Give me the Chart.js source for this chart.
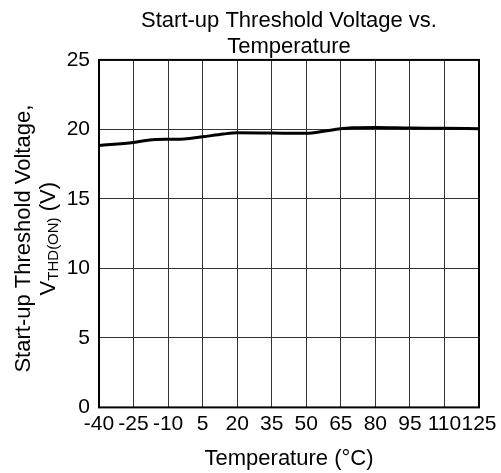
<!DOCTYPE html>
<html>
<head>
<meta charset="utf-8">
<script src="https://cdn.jsdelivr.net/npm/chart.js@4/dist/chart.umd.min.js"></script>
<style>
  html, body { margin: 0; padding: 0; background: #fff; }
  #wrap { width: 501px; height: 473px; }
</style>
</head>
<body>
<div id="wrap"><canvas id="vthChart"></canvas></div>
<script>
// values
const temps = [-40, -25, -18, -10, -3, 5, 14, 20, 35, 50, 54, 64, 70, 80, 95, 110, 125];
const vth = [18.84, 19.06, 19.24, 19.29, 19.31, 19.47, 19.67, 19.76, 19.74, 19.72, 19.78, 20.03, 20.12, 20.14, 20.1, 20.08, 20.05];
const xTicks = [-40, -25, -10, 5, 20, 35, 50, 65, 80, 95, 110, 125];
const yTicks = [0, 5, 10, 15, 20, 25];

const chartTitle = ["Start-up Threshold Voltage vs.", "Temperature"];
const xTitle = "Temperature (°C)";
const yTitleLine1 = "Start-up Threshold Voltage,";
const yTitleMain = "V";
const yTitleSub = "THD(ON)";
const yTitleEnd = " (V)";

const FONT = "'Liberation Sans', Arial, sans-serif";

Chart.defaults.font.family = FONT;
Chart.defaults.color = "#000";

// frame round the plot area + rotated y title with subscript
const framePlugin = {
  id: "frame",
  beforeDatasetsDraw(chart) {
    const { ctx, chartArea: a } = chart;
    ctx.save();
    ctx.strokeStyle = "#000";
    ctx.lineWidth = 2;
    ctx.strokeRect(a.left, a.top, a.right - a.left, a.bottom - a.top);
    ctx.restore();
  },
  afterDraw(chart) {
    const { ctx, chartArea: a } = chart;
    const cy = (a.top + a.bottom) / 2 + 5;
    ctx.save();
    ctx.fillStyle = "#000";
    ctx.textBaseline = "alphabetic";

    // line 1
    ctx.save();
    ctx.translate(30, cy);
    ctx.rotate(-Math.PI / 2);
    ctx.font = "22px " + FONT;
    ctx.textAlign = "center";
    ctx.fillText(yTitleLine1, 0, 0);
    ctx.restore();

    // line 2 with subscript
    ctx.save();
    ctx.translate(55, cy);
    ctx.rotate(-Math.PI / 2);
    ctx.textAlign = "left";
    ctx.font = "22px " + FONT;
    const wMain = ctx.measureText(yTitleMain).width;
    const wEnd = ctx.measureText(yTitleEnd).width;
    ctx.font = "15px " + FONT;
    const wSub = ctx.measureText(yTitleSub).width;
    let x = -(wMain + wSub + wEnd) / 2;
    ctx.font = "22px " + FONT;
    ctx.fillText(yTitleMain, x, 0);
    x += wMain;
    ctx.font = "15px " + FONT;
    ctx.fillText(yTitleSub, x, 3);
    x += wSub;
    ctx.font = "22px " + FONT;
    ctx.fillText(yTitleEnd, x, 0);
    ctx.restore();

    ctx.restore();
  },
};

const ctx = document.getElementById("vthChart").getContext("2d");
new Chart(ctx, {
  type: "line",
  data: {
    datasets: [
      {
        label: "VTHD(ON)",
        data: temps.map((t, i) => ({ x: t, y: vth[i] })),
        borderColor: "#000",
        borderWidth: 3,
        pointRadius: 0,
        cubicInterpolationMode: "monotone",
        fill: false,
      },
    ],
  },
  options: {
    responsive: true,
    maintainAspectRatio: false,
    animation: false,
    layout: {
      padding: { left: 0, right: 22, top: 0, bottom: 0 },
    },
    plugins: {
      legend: { display: false },
      tooltip: { enabled: false },
      title: {
        display: true,
        fullSize: false,
        text: chartTitle,
        color: "#000",
        font: { size: 22, weight: "normal", lineHeight: 1.18 },
        padding: { top: 8, bottom: 0 },
      },
    },
    scales: {
      x: {
        type: "linear",
        min: -40,
        max: 125,
        afterBuildTicks: (s) => {
          s.ticks = xTicks.map((v) => ({ value: v }));
        },
        ticks: {
          autoSkip: false,
          maxRotation: 0,
          minRotation: 0,
          padding: 4,
          color: "#000",
          font: { size: 21 },
        },
        grid: { color: "#333", lineWidth: 1, drawTicks: false },
        border: { display: false },
        title: {
          display: true,
          text: xTitle,
          color: "#000",
          font: { size: 22 },
          padding: { top: 5, bottom: 1 },
        },
      },
      y: {
        min: 0,
        max: 25,
        afterBuildTicks: (s) => {
          s.ticks = yTicks.map((v) => ({ value: v }));
        },
        afterFit: (s) => {
          s.width = 99;
        },
        ticks: {
          padding: 9,
          color: "#000",
          font: { size: 21 },
        },
        grid: { color: "#333", lineWidth: 1, drawTicks: false },
        border: { display: false },
      },
    },
  },
  plugins: [framePlugin],
});
</script>
</body>
</html>
